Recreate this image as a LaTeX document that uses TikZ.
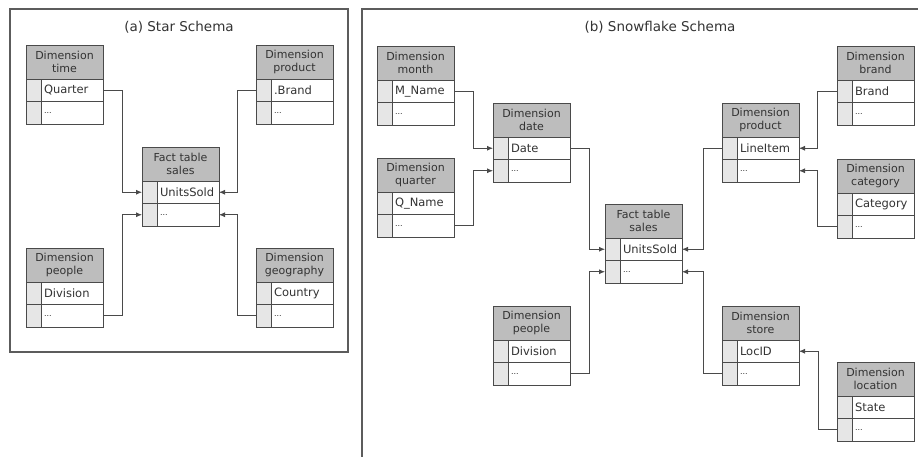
\documentclass[tikz,border=0pt]{standalone}
\usepackage{fontspec}
\setmainfont{DejaVu Sans}
\usetikzlibrary{arrows.meta}
\definecolor{hdrgray}{HTML}{BDBDBD}
\definecolor{keygray}{HTML}{E6E6E6}
\definecolor{rule}{HTML}{4A4A4A}
\definecolor{ink}{HTML}{333333}

\tikzset{
  hdr/.style={draw=rule, fill=hdrgray, line width=0.8pt, outer sep=0pt, inner sep=0pt,
    minimum width=77pt, minimum height=34pt, align=center,
    font=\fontsize{11}{13.5}\selectfont, text=ink},
  keycell/.style={draw=rule, fill=keygray, line width=0.8pt, outer sep=0pt, inner sep=0pt,
    minimum width=15pt, minimum height=22.5pt},
  fldcell/.style={draw=rule, fill=white, line width=0.8pt, outer sep=0pt, inner sep=3pt,
    text width=56pt, minimum height=22.5pt, align=left,
    font=\fontsize{11.5}{13}\selectfont, text=ink},
  link/.style={rule, line width=0.8pt, -{Latex[length=6pt,width=5pt]}},
  frame/.style={draw=rule!90, line width=1.1pt},
  title/.style={font=\fontsize{13.5}{15}\selectfont, text=ink},
}

% one table: name, left x, top y, header, key field
\newcommand{\dimtable}[5]{%
  \node[hdr, anchor=north west] (#1-h) at (#2,#3) {#4};
  \node[keycell, anchor=north west] (#1-k1) at (#1-h.south west) {};
  \node[fldcell, anchor=west] (#1-f1) at (#1-k1.east) {#5};
  \node[keycell, anchor=north west] (#1-k2) at (#1-k1.south west) {};
  \node[fldcell, anchor=west] (#1-f2) at (#1-k2.east) {{\fontsize{8}{9}\selectfont ...}};
}

\begin{document}
\begin{tikzpicture}[x=1pt, y=1pt]
  \useasboundingbox (0,0) rectangle (918,-457);

  % frames and titles
  \draw[frame] (10,-9) rectangle (348,-352);
  \draw[frame] (918,-9) -- (362,-9) -- (362,-457);
  \node[title] (startitle) at (179,-27) {(a) Star Schema};
  \node[title] (snowtitle) at (660,-27) {(b) Snowflake Schema};

  % (a) star
  \dimtable{time}{26}{-45}{Dimension\\time}{Quarter}
  \dimtable{prod}{256}{-45}{Dimension\\product}{.Brand}
  \dimtable{sfact}{142}{-147}{Fact table\\sales}{UnitsSold}
  \dimtable{people}{26}{-248}{Dimension\\people}{Division}
  \dimtable{geo}{256}{-248}{Dimension\\geography}{Country}

  \draw[link] (time-f1.east) -- ++(19,0) |- (sfact-k1.west);
  \draw[link] (people-f2.east) -- ++(19,0) |- (sfact-k2.west);
  \draw[link] (prod-k1.west) -- ++(-19,0) |- (sfact-f1.east);
  \draw[link] (geo-k2.west) -- ++(-19,0) |- (sfact-f2.east);

  % (b) snowflake
  \dimtable{month}{377}{-46}{Dimension\\month}{M\_Name}
  \dimtable{quarter}{377}{-158}{Dimension\\quarter}{Q\_Name}
  \dimtable{date}{493}{-103}{Dimension\\date}{Date}
  \dimtable{fact}{605}{-204}{Fact table\\sales}{UnitsSold}
  \dimtable{bpeople}{493}{-306}{Dimension\\people}{Division}
  \dimtable{product}{722}{-103}{Dimension\\product}{LineItem}
  \dimtable{brand}{837}{-46}{Dimension\\brand}{Brand}
  \dimtable{category}{837}{-159}{Dimension\\category}{Category}
  \dimtable{store}{722}{-306}{Dimension\\store}{LocID}
  \dimtable{location}{837}{-362}{Dimension\\location}{State}

  \draw[link] (month-f1.east) -- ++(19,0) |- (date-k1.west);
  \draw[link] (quarter-f2.east) -- ++(19,0) |- (date-k2.west);
  \draw[link] (date-f1.east) -- ++(19,0) |- (fact-k1.west);
  \draw[link] (bpeople-f2.east) -- ++(19,0) |- (fact-k2.west);
  \draw[link] (product-k1.west) -- ++(-19,0) |- (fact-f1.east);
  \draw[link] (store-k2.west) -- ++(-19,0) |- (fact-f2.east);
  \draw[link] (brand-k1.west) -- ++(-20,0) |- (product-f1.east);
  \draw[link] (category-k2.west) -- ++(-20,0) |- (product-f2.east);
  \draw[link] (location-k2.west) -- ++(-19,0) |- (store-f1.east);
\end{tikzpicture}
\end{document}
